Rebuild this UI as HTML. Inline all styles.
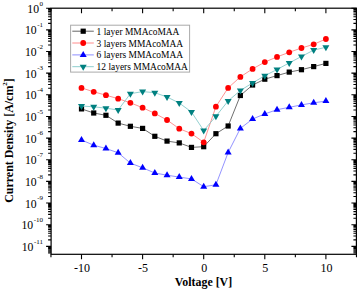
<!DOCTYPE html><html><head><meta charset="utf-8"><style>html,body{margin:0;padding:0;background:#fff;}svg{display:block;}text{font-family:"Liberation Serif",serif;}</style></head><body>
<svg width="358" height="289" viewBox="0 0 358 289">
<rect width="358" height="289" fill="#fff"/>
<path d="M50.95 254.3v3M50.95 8.2v3M81.50 254.3v5M81.50 8.2v5M112.05 254.3v3M112.05 8.2v3M142.60 254.3v5M142.60 8.2v5M173.15 254.3v3M173.15 8.2v3M203.70 254.3v5M203.70 8.2v5M234.25 254.3v3M234.25 8.2v3M264.80 254.3v5M264.80 8.2v5M295.35 254.3v3M295.35 8.2v3M325.90 254.3v5M325.90 8.2v5M356.45 254.3v3M356.45 8.2v3M46.1 8.20h5M356.4 8.20h-5M48.1 23.33h3M356.4 23.33h-3M48.1 19.52h3M356.4 19.52h-3M48.1 16.82h3M356.4 16.82h-3M48.1 14.72h3M356.4 14.72h-3M48.1 13.00h3M356.4 13.00h-3M48.1 11.55h3M356.4 11.55h-3M48.1 10.30h3M356.4 10.30h-3M48.1 9.19h3M356.4 9.19h-3M46.1 29.85h5M356.4 29.85h-5M48.1 44.98h3M356.4 44.98h-3M48.1 41.17h3M356.4 41.17h-3M48.1 38.47h3M356.4 38.47h-3M48.1 36.37h3M356.4 36.37h-3M48.1 34.65h3M356.4 34.65h-3M48.1 33.20h3M356.4 33.20h-3M48.1 31.95h3M356.4 31.95h-3M48.1 30.84h3M356.4 30.84h-3M46.1 51.50h5M356.4 51.50h-5M48.1 66.63h3M356.4 66.63h-3M48.1 62.82h3M356.4 62.82h-3M48.1 60.12h3M356.4 60.12h-3M48.1 58.02h3M356.4 58.02h-3M48.1 56.30h3M356.4 56.30h-3M48.1 54.85h3M356.4 54.85h-3M48.1 53.60h3M356.4 53.60h-3M48.1 52.49h3M356.4 52.49h-3M46.1 73.15h5M356.4 73.15h-5M48.1 88.28h3M356.4 88.28h-3M48.1 84.47h3M356.4 84.47h-3M48.1 81.77h3M356.4 81.77h-3M48.1 79.67h3M356.4 79.67h-3M48.1 77.95h3M356.4 77.95h-3M48.1 76.50h3M356.4 76.50h-3M48.1 75.25h3M356.4 75.25h-3M48.1 74.14h3M356.4 74.14h-3M46.1 94.80h5M356.4 94.80h-5M48.1 109.93h3M356.4 109.93h-3M48.1 106.12h3M356.4 106.12h-3M48.1 103.42h3M356.4 103.42h-3M48.1 101.32h3M356.4 101.32h-3M48.1 99.60h3M356.4 99.60h-3M48.1 98.15h3M356.4 98.15h-3M48.1 96.90h3M356.4 96.90h-3M48.1 95.79h3M356.4 95.79h-3M46.1 116.45h5M356.4 116.45h-5M48.1 131.58h3M356.4 131.58h-3M48.1 127.77h3M356.4 127.77h-3M48.1 125.07h3M356.4 125.07h-3M48.1 122.97h3M356.4 122.97h-3M48.1 121.25h3M356.4 121.25h-3M48.1 119.80h3M356.4 119.80h-3M48.1 118.55h3M356.4 118.55h-3M48.1 117.44h3M356.4 117.44h-3M46.1 138.10h5M356.4 138.10h-5M48.1 153.23h3M356.4 153.23h-3M48.1 149.42h3M356.4 149.42h-3M48.1 146.72h3M356.4 146.72h-3M48.1 144.62h3M356.4 144.62h-3M48.1 142.90h3M356.4 142.90h-3M48.1 141.45h3M356.4 141.45h-3M48.1 140.20h3M356.4 140.20h-3M48.1 139.09h3M356.4 139.09h-3M46.1 159.75h5M356.4 159.75h-5M48.1 174.88h3M356.4 174.88h-3M48.1 171.07h3M356.4 171.07h-3M48.1 168.37h3M356.4 168.37h-3M48.1 166.27h3M356.4 166.27h-3M48.1 164.55h3M356.4 164.55h-3M48.1 163.10h3M356.4 163.10h-3M48.1 161.85h3M356.4 161.85h-3M48.1 160.74h3M356.4 160.74h-3M46.1 181.40h5M356.4 181.40h-5M48.1 196.53h3M356.4 196.53h-3M48.1 192.72h3M356.4 192.72h-3M48.1 190.02h3M356.4 190.02h-3M48.1 187.92h3M356.4 187.92h-3M48.1 186.20h3M356.4 186.20h-3M48.1 184.75h3M356.4 184.75h-3M48.1 183.50h3M356.4 183.50h-3M48.1 182.39h3M356.4 182.39h-3M46.1 203.05h5M356.4 203.05h-5M48.1 218.18h3M356.4 218.18h-3M48.1 214.37h3M356.4 214.37h-3M48.1 211.67h3M356.4 211.67h-3M48.1 209.57h3M356.4 209.57h-3M48.1 207.85h3M356.4 207.85h-3M48.1 206.40h3M356.4 206.40h-3M48.1 205.15h3M356.4 205.15h-3M48.1 204.04h3M356.4 204.04h-3M46.1 224.70h5M356.4 224.70h-5M48.1 239.83h3M356.4 239.83h-3M48.1 236.02h3M356.4 236.02h-3M48.1 233.32h3M356.4 233.32h-3M48.1 231.22h3M356.4 231.22h-3M48.1 229.50h3M356.4 229.50h-3M48.1 228.05h3M356.4 228.05h-3M48.1 226.80h3M356.4 226.80h-3M48.1 225.69h3M356.4 225.69h-3M46.1 246.35h5M356.4 246.35h-5M48.1 252.87h3M356.4 252.87h-3M48.1 251.15h3M356.4 251.15h-3M48.1 249.70h3M356.4 249.70h-3M48.1 248.45h3M356.4 248.45h-3M48.1 247.34h3M356.4 247.34h-3" stroke="#000" stroke-width="1.1" fill="none"/>
<rect x="51.1" y="8.2" width="305.30" height="246.10" fill="none" stroke="#000" stroke-width="1.2"/>
<text x="82.00" y="272.2" font-size="12" text-anchor="middle">-10</text>
<text x="143.10" y="272.2" font-size="12" text-anchor="middle">-5</text>
<text x="204.20" y="272.2" font-size="12" text-anchor="middle">0</text>
<text x="265.30" y="272.2" font-size="12" text-anchor="middle">5</text>
<text x="326.40" y="272.2" font-size="12" text-anchor="middle">10</text>
<text x="43.0" y="12.70" font-size="11.7" text-anchor="end">10<tspan font-size="7" dx="0.5" dy="-7.2">0</tspan></text>
<text x="43.0" y="34.35" font-size="11.7" text-anchor="end">10<tspan font-size="7" dx="0.5" dy="-7.2">-1</tspan></text>
<text x="43.0" y="56.00" font-size="11.7" text-anchor="end">10<tspan font-size="7" dx="0.5" dy="-7.2">-2</tspan></text>
<text x="43.0" y="77.65" font-size="11.7" text-anchor="end">10<tspan font-size="7" dx="0.5" dy="-7.2">-3</tspan></text>
<text x="43.0" y="99.30" font-size="11.7" text-anchor="end">10<tspan font-size="7" dx="0.5" dy="-7.2">-4</tspan></text>
<text x="43.0" y="120.95" font-size="11.7" text-anchor="end">10<tspan font-size="7" dx="0.5" dy="-7.2">-5</tspan></text>
<text x="43.0" y="142.60" font-size="11.7" text-anchor="end">10<tspan font-size="7" dx="0.5" dy="-7.2">-6</tspan></text>
<text x="43.0" y="164.25" font-size="11.7" text-anchor="end">10<tspan font-size="7" dx="0.5" dy="-7.2">-7</tspan></text>
<text x="43.0" y="185.90" font-size="11.7" text-anchor="end">10<tspan font-size="7" dx="0.5" dy="-7.2">-8</tspan></text>
<text x="43.0" y="207.55" font-size="11.7" text-anchor="end">10<tspan font-size="7" dx="0.5" dy="-7.2">-9</tspan></text>
<text x="43.0" y="229.20" font-size="11.7" text-anchor="end">10<tspan font-size="7" dx="0.5" dy="-7.2">-10</tspan></text>
<text x="43.0" y="250.85" font-size="11.7" text-anchor="end">10<tspan font-size="7" dx="0.5" dy="-7.2">-11</tspan></text>
<text x="203.5" y="285.7" font-size="11.9" font-weight="bold" text-anchor="middle">Voltage [V]</text>
<text transform="translate(13.2,140.5) rotate(-90)" font-size="11.95" font-weight="bold" text-anchor="middle">Current Density [A/cm<tspan font-size="7" dy="-6.3">2</tspan><tspan dy="6.3">]</tspan></text>
<polyline points="81.50,108.90 93.72,113.00 105.94,115.30 118.16,123.10 130.38,126.30 142.60,128.40 154.82,136.30 167.04,141.10 179.26,142.90 191.48,147.40 203.70,146.70 215.92,133.70 228.14,126.00 240.36,95.50 252.58,85.00 264.80,79.20 277.02,75.60 289.24,72.10 301.46,69.70 313.68,66.60 325.90,63.40" fill="none" stroke="#555" stroke-width="0.85"/>
<rect x="78.90" y="106.30" width="5.2" height="5.2" fill="#000"/><rect x="91.12" y="110.40" width="5.2" height="5.2" fill="#000"/><rect x="103.34" y="112.70" width="5.2" height="5.2" fill="#000"/><rect x="115.56" y="120.50" width="5.2" height="5.2" fill="#000"/><rect x="127.78" y="123.70" width="5.2" height="5.2" fill="#000"/><rect x="140.00" y="125.80" width="5.2" height="5.2" fill="#000"/><rect x="152.22" y="133.70" width="5.2" height="5.2" fill="#000"/><rect x="164.44" y="138.50" width="5.2" height="5.2" fill="#000"/><rect x="176.66" y="140.30" width="5.2" height="5.2" fill="#000"/><rect x="188.88" y="144.80" width="5.2" height="5.2" fill="#000"/><rect x="201.10" y="144.10" width="5.2" height="5.2" fill="#000"/><rect x="213.32" y="131.10" width="5.2" height="5.2" fill="#000"/><rect x="225.54" y="123.40" width="5.2" height="5.2" fill="#000"/><rect x="237.76" y="92.90" width="5.2" height="5.2" fill="#000"/><rect x="249.98" y="82.40" width="5.2" height="5.2" fill="#000"/><rect x="262.20" y="76.60" width="5.2" height="5.2" fill="#000"/><rect x="274.42" y="73.00" width="5.2" height="5.2" fill="#000"/><rect x="286.64" y="69.50" width="5.2" height="5.2" fill="#000"/><rect x="298.86" y="67.10" width="5.2" height="5.2" fill="#000"/><rect x="311.08" y="64.00" width="5.2" height="5.2" fill="#000"/><rect x="323.30" y="60.80" width="5.2" height="5.2" fill="#000"/>
<polyline points="81.50,87.90 93.72,91.80 105.94,95.20 118.16,98.70 130.38,102.80 142.60,107.70 154.82,113.40 167.04,120.00 179.26,128.70 191.48,133.60 203.70,142.30 215.92,106.70 228.14,87.90 240.36,76.90 252.58,68.90 264.80,62.10 277.02,56.90 289.24,52.30 301.46,48.00 313.68,44.30 325.90,39.00" fill="none" stroke="#ff8080" stroke-width="0.85"/>
<circle cx="81.50" cy="87.90" r="2.9" fill="#f00"/><circle cx="93.72" cy="91.80" r="2.9" fill="#f00"/><circle cx="105.94" cy="95.20" r="2.9" fill="#f00"/><circle cx="118.16" cy="98.70" r="2.9" fill="#f00"/><circle cx="130.38" cy="102.80" r="2.9" fill="#f00"/><circle cx="142.60" cy="107.70" r="2.9" fill="#f00"/><circle cx="154.82" cy="113.40" r="2.9" fill="#f00"/><circle cx="167.04" cy="120.00" r="2.9" fill="#f00"/><circle cx="179.26" cy="128.70" r="2.9" fill="#f00"/><circle cx="191.48" cy="133.60" r="2.9" fill="#f00"/><circle cx="203.70" cy="142.30" r="2.9" fill="#f00"/><circle cx="215.92" cy="106.70" r="2.9" fill="#f00"/><circle cx="228.14" cy="87.90" r="2.9" fill="#f00"/><circle cx="240.36" cy="76.90" r="2.9" fill="#f00"/><circle cx="252.58" cy="68.90" r="2.9" fill="#f00"/><circle cx="264.80" cy="62.10" r="2.9" fill="#f00"/><circle cx="277.02" cy="56.90" r="2.9" fill="#f00"/><circle cx="289.24" cy="52.30" r="2.9" fill="#f00"/><circle cx="301.46" cy="48.00" r="2.9" fill="#f00"/><circle cx="313.68" cy="44.30" r="2.9" fill="#f00"/><circle cx="325.90" cy="39.00" r="2.9" fill="#f00"/>
<polyline points="81.50,140.00 93.72,145.20 105.94,148.50 118.16,152.80 130.38,163.10 142.60,167.80 154.82,173.00 167.04,175.20 179.26,177.10 191.48,178.90 203.70,186.70 215.92,184.80 228.14,152.50 240.36,128.40 252.58,119.00 264.80,113.90 277.02,109.70 289.24,107.30 301.46,104.90 313.68,102.80 325.90,101.10" fill="none" stroke="#8080ff" stroke-width="0.85"/>
<path d="M81.50 136.00L85.00 142.00L78.00 142.00Z" fill="#00f"/><path d="M93.72 141.20L97.22 147.20L90.22 147.20Z" fill="#00f"/><path d="M105.94 144.50L109.44 150.50L102.44 150.50Z" fill="#00f"/><path d="M118.16 148.80L121.66 154.80L114.66 154.80Z" fill="#00f"/><path d="M130.38 159.10L133.88 165.10L126.88 165.10Z" fill="#00f"/><path d="M142.60 163.80L146.10 169.80L139.10 169.80Z" fill="#00f"/><path d="M154.82 169.00L158.32 175.00L151.32 175.00Z" fill="#00f"/><path d="M167.04 171.20L170.54 177.20L163.54 177.20Z" fill="#00f"/><path d="M179.26 173.10L182.76 179.10L175.76 179.10Z" fill="#00f"/><path d="M191.48 174.90L194.98 180.90L187.98 180.90Z" fill="#00f"/><path d="M203.70 182.70L207.20 188.70L200.20 188.70Z" fill="#00f"/><path d="M215.92 180.80L219.42 186.80L212.42 186.80Z" fill="#00f"/><path d="M228.14 148.50L231.64 154.50L224.64 154.50Z" fill="#00f"/><path d="M240.36 124.40L243.86 130.40L236.86 130.40Z" fill="#00f"/><path d="M252.58 115.00L256.08 121.00L249.08 121.00Z" fill="#00f"/><path d="M264.80 109.90L268.30 115.90L261.30 115.90Z" fill="#00f"/><path d="M277.02 105.70L280.52 111.70L273.52 111.70Z" fill="#00f"/><path d="M289.24 103.30L292.74 109.30L285.74 109.30Z" fill="#00f"/><path d="M301.46 100.90L304.96 106.90L297.96 106.90Z" fill="#00f"/><path d="M313.68 98.80L317.18 104.80L310.18 104.80Z" fill="#00f"/><path d="M325.90 97.10L329.40 103.10L322.40 103.10Z" fill="#00f"/>
<polyline points="81.50,106.00 93.72,106.80 105.94,108.20 118.16,110.00 130.38,93.70 142.60,91.60 154.82,92.70 167.04,97.00 179.26,103.00 191.48,112.00 203.70,130.50 215.92,116.30 228.14,100.90 240.36,90.50 252.58,82.90 264.80,75.70 277.02,69.50 289.24,62.90 301.46,56.50 313.68,50.10 325.90,47.30" fill="none" stroke="#80c8c8" stroke-width="0.85"/>
<path d="M81.50 110.00L85.00 104.00L78.00 104.00Z" fill="#008080"/><path d="M93.72 110.80L97.22 104.80L90.22 104.80Z" fill="#008080"/><path d="M105.94 112.20L109.44 106.20L102.44 106.20Z" fill="#008080"/><path d="M118.16 114.00L121.66 108.00L114.66 108.00Z" fill="#008080"/><path d="M130.38 97.70L133.88 91.70L126.88 91.70Z" fill="#008080"/><path d="M142.60 95.60L146.10 89.60L139.10 89.60Z" fill="#008080"/><path d="M154.82 96.70L158.32 90.70L151.32 90.70Z" fill="#008080"/><path d="M167.04 101.00L170.54 95.00L163.54 95.00Z" fill="#008080"/><path d="M179.26 107.00L182.76 101.00L175.76 101.00Z" fill="#008080"/><path d="M191.48 116.00L194.98 110.00L187.98 110.00Z" fill="#008080"/><path d="M203.70 134.50L207.20 128.50L200.20 128.50Z" fill="#008080"/><path d="M215.92 120.30L219.42 114.30L212.42 114.30Z" fill="#008080"/><path d="M228.14 104.90L231.64 98.90L224.64 98.90Z" fill="#008080"/><path d="M240.36 94.50L243.86 88.50L236.86 88.50Z" fill="#008080"/><path d="M252.58 86.90L256.08 80.90L249.08 80.90Z" fill="#008080"/><path d="M264.80 79.70L268.30 73.70L261.30 73.70Z" fill="#008080"/><path d="M277.02 73.50L280.52 67.50L273.52 67.50Z" fill="#008080"/><path d="M289.24 66.90L292.74 60.90L285.74 60.90Z" fill="#008080"/><path d="M301.46 60.50L304.96 54.50L297.96 54.50Z" fill="#008080"/><path d="M313.68 54.10L317.18 48.10L310.18 48.10Z" fill="#008080"/><path d="M325.90 51.30L329.40 45.30L322.40 45.30Z" fill="#008080"/>
<rect x="70.6" y="25.2" width="119" height="46.9" fill="#fff" stroke="#aaa" stroke-width="1"/>
<line x1="72.3" y1="31.2" x2="93.8" y2="31.2" stroke="#555" stroke-width="0.9"/>
<rect x="80.60" y="28.60" width="5.2" height="5.2" fill="#000"/>
<text x="96.6" y="34.70" font-size="9.45">1 layer MMAcoMAA</text>
<line x1="72.3" y1="43.0" x2="93.8" y2="43.0" stroke="#ff8080" stroke-width="0.9"/>
<circle cx="83.20" cy="43.00" r="2.9" fill="#f00"/>
<text x="96.6" y="46.50" font-size="9.45">3 layers MMAcoMAA</text>
<line x1="72.3" y1="54.9" x2="93.8" y2="54.9" stroke="#8080ff" stroke-width="0.9"/>
<path d="M83.20 50.90L86.70 56.90L79.70 56.90Z" fill="#00f"/>
<text x="96.6" y="58.40" font-size="9.45">6 layers MMAcoMAA</text>
<line x1="72.3" y1="66.7" x2="93.8" y2="66.7" stroke="#80c8c8" stroke-width="0.9"/>
<path d="M83.20 70.70L86.70 64.70L79.70 64.70Z" fill="#008080"/>
<text x="96.6" y="70.20" font-size="9.45">12 layers MMAcoMAA</text>
</svg></body></html>
